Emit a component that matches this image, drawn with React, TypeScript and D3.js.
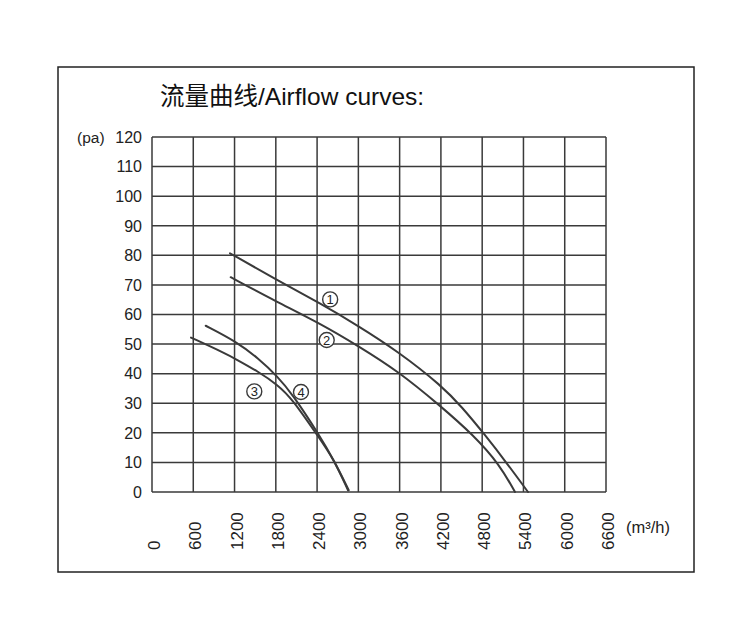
import { useMemo } from "react";
import * as d3 from "d3";

// airflow (m3/h) vs static pressure (pa)
const curve1Flow = [1134, 1813, 2442, 2976, 3591, 4216, 4502, 4841, 5180, 5466];
const curve1Pa = [80.7, 71.7, 63.8, 56.5, 47.3, 35.8, 28.8, 19.3, 9.1, 0];
const curve2Flow = [1144, 1813, 2442, 3010, 3591, 4187, 4671, 5059, 5277];
const curve2Pa = [72.6, 64.3, 57.0, 49.2, 40.6, 29.2, 19.3, 9.1, 0];
const curve3Flow = [567, 1061, 1221, 1545, 1827, 2031, 2432, 2631, 2850];
const curve3Pa = [52.2, 46.9, 44.9, 40.7, 36.2, 31.7, 18.2, 11.5, 0.6];
const curve4Flow = [781, 1221, 1545, 1827, 2031, 2432, 2660, 2860];
const curve4Pa = [56.2, 50.9, 45.2, 39.0, 33.4, 19.3, 10.1, 0.6];

const curveLabels = ["1", "2", "3", "4"];
const labelFlow = [2590, 2540, 1487, 2166];
const labelPa = [65.1, 51.4, 34.0, 33.8];

const xTicks = [0, 600, 1200, 1800, 2400, 3000, 3600, 4200, 4800, 5400, 6000, 6600];
const yTicks = [0, 10, 20, 30, 40, 50, 60, 70, 80, 90, 100, 110, 120];

const W = 750;
const H = 633;
const left = 152;
const right = 606;
const top = 137;
const bottom = 492;
const ink = "#3a3a3a";
const font = "'Liberation Sans', Arial, 'Noto Sans CJK SC', sans-serif";

export default function App() {
  const x = useMemo(() => d3.scaleLinear().domain([0, 6600]).range([left, right]), []);
  const y = useMemo(() => d3.scaleLinear().domain([0, 120]).range([bottom, top]), []);

  // b-spline smooths out reading noise in the hand-traced points
  const line = d3
    .line<[number, number]>()
    .x((d) => x(d[0]))
    .y((d) => y(d[1]))
    .curve(d3.curveBasis);

  const series = [
    d3.zip(curve1Flow, curve1Pa),
    d3.zip(curve2Flow, curve2Pa),
    d3.zip(curve3Flow, curve3Pa),
    d3.zip(curve4Flow, curve4Pa),
  ] as [number, number][][];

  return (
    <svg
      width={W}
      height={H}
      style={{ position: "absolute", left: 0, top: 0, background: "#fff" }}
      fontFamily={font}
    >
      <rect x={58} y={67} width={636} height={505} fill="none" stroke="#222" strokeWidth={1.5} />
      <text x={160} y={105} fontSize={24.5} fill="#111">
        流量曲线/Airflow curves:
      </text>

      {/* grid */}
      <g stroke={ink} strokeWidth={1.5}>
        {yTicks.map((t) => (
          <line key={"h" + t} x1={left} x2={right} y1={y(t)} y2={y(t)} />
        ))}
        {xTicks.map((t) => (
          <line key={"v" + t} x1={x(t)} x2={x(t)} y1={top} y2={bottom} />
        ))}
      </g>

      {/* y labels */}
      <g fontSize={16} fill="#222" textAnchor="end">
        {yTicks.map((t) => (
          <text key={t} x={142} y={y(t)} dy="0.36em">
            {t}
          </text>
        ))}
      </g>
      <text x={77} y={y(120)} dy="0.36em" fontSize={15.5} fill="#222">
        (pa)
      </text>

      {/* x labels, rotated */}
      <g fontSize={17} fill="#222">
        {xTicks.map((t) => (
          <text
            key={t}
            transform={`translate(${x(t) + 8},550) rotate(-90)`}
            textAnchor="start"
          >
            {t}
          </text>
        ))}
      </g>
      <text x={626} y={533} fontSize={16.5} fill="#222">
        (m³/h)
      </text>

      {/* curves */}
      <g fill="none" stroke={ink} strokeWidth={2} strokeLinecap="round">
        {series.map((s, i) => (
          <path key={i} d={line(s) ?? ""} />
        ))}
      </g>

      {/* circled curve numbers */}
      {curveLabels.map((lab, i) => (
        <g key={lab} transform={`translate(${x(labelFlow[i])},${y(labelPa[i])})`}>
          <circle r={7.5} fill="#fff" stroke={ink} strokeWidth={1.4} />
          <text textAnchor="middle" dy="0.36em" fontSize={13} fill="#222">
            {lab}
          </text>
        </g>
      ))}
    </svg>
  );
}
